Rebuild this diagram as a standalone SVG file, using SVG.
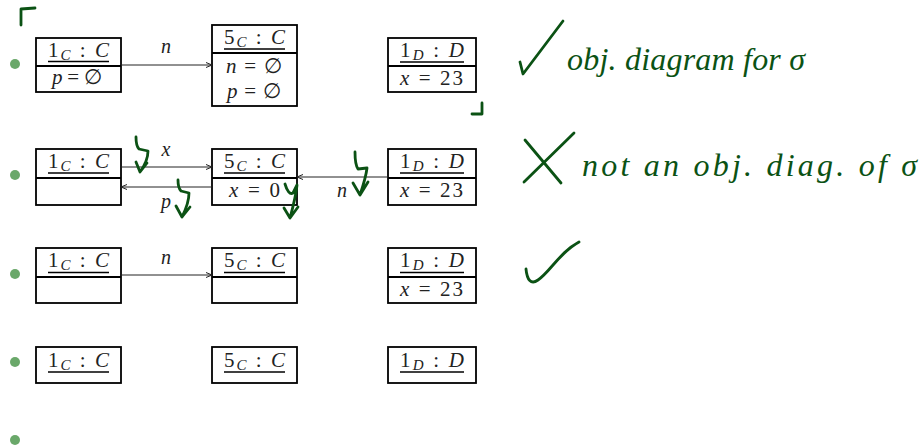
<svg xmlns="http://www.w3.org/2000/svg" width="919" height="448" viewBox="0 0 919 448">
<style>
.box{fill:none;stroke:#000;stroke-width:1.8}
.ul{stroke:#000;stroke-width:1.6}
.m{font-family:'Times New Roman','Liberation Serif','DejaVu Serif',serif;font-size:21px;fill:#222}
.i{font-style:italic}
.sub{font-size:15px;font-style:italic}
.lbl{font-family:'Times New Roman','Liberation Serif','DejaVu Serif',serif;font-size:20px;font-style:italic;fill:#222}
.con{stroke:#222;stroke-width:1;fill:none}
.ink{stroke:#0b5214;stroke-width:2.8;fill:none;stroke-linecap:round;stroke-linejoin:round}
.hw{font-family:'Times New Roman','Liberation Serif',serif;font-style:italic;font-size:32px;fill:#0b5214}
.bul{fill:#6aa86a}
</style>
<defs>
<marker id="ah" markerWidth="8" markerHeight="8" refX="7" refY="4" orient="auto" markerUnits="userSpaceOnUse">
<path d="M1,1.5 L7,4 L1,6.5" fill="none" stroke="#222" stroke-width="1"/>
</marker>
</defs>

<g id="bullets">
<circle class="bul" cx="15" cy="64" r="5"/>
<circle class="bul" cx="15" cy="175" r="5"/>
<circle class="bul" cx="15" cy="274" r="5"/>
<circle class="bul" cx="15" cy="362" r="5"/>
<circle class="bul" cx="15" cy="440" r="5"/>
</g>

<!-- Row 1 -->
<g id="r1-1C">
<rect class="box" x="36" y="38" width="85" height="54"/>
<line class="box" x1="36" y1="66" x2="121" y2="66"/>
<text class="m" x="48" y="57" textLength="61" lengthAdjust="spacing">1<tspan class="sub" dy="3">C</tspan><tspan dy="-3"> : </tspan><tspan class="i">C</tspan></text>
<line class="ul" x1="48" y1="61.5" x2="109" y2="61.5"/>
<text class="m" x="52" y="84" textLength="50" lengthAdjust="spacing"><tspan class="i">p</tspan> = ∅</text>
</g>
<g id="r1-5C">
<rect class="box" x="212" y="25" width="85" height="81"/>
<line class="box" x1="212" y1="53" x2="297" y2="53"/>
<text class="m" x="224" y="43.5" textLength="61" lengthAdjust="spacing">5<tspan class="sub" dy="3">C</tspan><tspan dy="-3"> : </tspan><tspan class="i">C</tspan></text>
<line class="ul" x1="224" y1="49" x2="285" y2="49"/>
<text class="m" x="226" y="73" textLength="56" lengthAdjust="spacing"><tspan class="i">n</tspan> = ∅</text>
<text class="m" x="227" y="98" textLength="54" lengthAdjust="spacing"><tspan class="i">p</tspan> = ∅</text>
</g>
<g id="r1-1D">
<rect class="box" x="388" y="38" width="88" height="54"/>
<line class="box" x1="388" y1="66" x2="476" y2="66"/>
<text class="m" x="400" y="57" textLength="64" lengthAdjust="spacing">1<tspan class="sub" dy="3">D</tspan><tspan dy="-3"> : </tspan><tspan class="i">D</tspan></text>
<line class="ul" x1="400" y1="62" x2="464" y2="62"/>
<text class="m" x="400" y="85" textLength="63" lengthAdjust="spacing"><tspan class="i">x</tspan> = 23</text>
</g>

<!-- Row 2 -->
<g id="r2-1C">
<rect class="box" x="36" y="149" width="85" height="56"/>
<line class="box" x1="36" y1="178" x2="121" y2="178"/>
<text class="m" x="48" y="168" textLength="61" lengthAdjust="spacing">1<tspan class="sub" dy="3">C</tspan><tspan dy="-3"> : </tspan><tspan class="i">C</tspan></text>
<line class="ul" x1="48" y1="173" x2="109" y2="173"/>
</g>
<g id="r2-5C">
<rect class="box" x="212" y="149" width="85" height="56"/>
<line class="box" x1="212" y1="178" x2="297" y2="178"/>
<text class="m" x="224" y="168" textLength="61" lengthAdjust="spacing">5<tspan class="sub" dy="3">C</tspan><tspan dy="-3"> : </tspan><tspan class="i">C</tspan></text>
<line class="ul" x1="224" y1="173" x2="285" y2="173"/>
<text class="m" x="229" y="197" textLength="51" lengthAdjust="spacing"><tspan class="i">x</tspan> = 0</text>
</g>
<g id="r2-1D">
<rect class="box" x="388" y="149" width="88" height="56"/>
<line class="box" x1="388" y1="178" x2="476" y2="178"/>
<text class="m" x="400" y="168" textLength="64" lengthAdjust="spacing">1<tspan class="sub" dy="3">D</tspan><tspan dy="-3"> : </tspan><tspan class="i">D</tspan></text>
<line class="ul" x1="400" y1="173" x2="464" y2="173"/>
<text class="m" x="400" y="197" textLength="63" lengthAdjust="spacing"><tspan class="i">x</tspan> = 23</text>
</g>

<!-- Row 3 -->
<g id="r3-1C">
<rect class="box" x="36" y="248" width="85" height="55"/>
<line class="box" x1="36" y1="277" x2="121" y2="277"/>
<text class="m" x="48" y="267" textLength="61" lengthAdjust="spacing">1<tspan class="sub" dy="3">C</tspan><tspan dy="-3"> : </tspan><tspan class="i">C</tspan></text>
<line class="ul" x1="48" y1="272.5" x2="109" y2="272.5"/>
</g>
<g id="r3-5C">
<rect class="box" x="212" y="248" width="85" height="55"/>
<line class="box" x1="212" y1="277" x2="297" y2="277"/>
<text class="m" x="224" y="267" textLength="61" lengthAdjust="spacing">5<tspan class="sub" dy="3">C</tspan><tspan dy="-3"> : </tspan><tspan class="i">C</tspan></text>
<line class="ul" x1="224" y1="272.5" x2="285" y2="272.5"/>
</g>
<g id="r3-1D">
<rect class="box" x="388" y="248" width="88" height="55"/>
<line class="box" x1="388" y1="277" x2="476" y2="277"/>
<text class="m" x="400" y="267" textLength="64" lengthAdjust="spacing">1<tspan class="sub" dy="3">D</tspan><tspan dy="-3"> : </tspan><tspan class="i">D</tspan></text>
<line class="ul" x1="400" y1="272.5" x2="464" y2="272.5"/>
<text class="m" x="400" y="296" textLength="63" lengthAdjust="spacing"><tspan class="i">x</tspan> = 23</text>
</g>

<!-- Row 4 -->
<g id="r4-1C">
<rect class="box" x="36" y="347" width="85" height="36"/>
<text class="m" x="48" y="367" textLength="61" lengthAdjust="spacing">1<tspan class="sub" dy="3">C</tspan><tspan dy="-3"> : </tspan><tspan class="i">C</tspan></text>
<line class="ul" x1="48" y1="372" x2="109" y2="372"/>
</g>
<g id="r4-5C">
<rect class="box" x="212" y="347" width="85" height="36"/>
<text class="m" x="224" y="367" textLength="61" lengthAdjust="spacing">5<tspan class="sub" dy="3">C</tspan><tspan dy="-3"> : </tspan><tspan class="i">C</tspan></text>
<line class="ul" x1="224" y1="372" x2="285" y2="372"/>
</g>
<g id="r4-1D">
<rect class="box" x="388" y="347" width="88" height="36"/>
<text class="m" x="400" y="367" textLength="64" lengthAdjust="spacing">1<tspan class="sub" dy="3">D</tspan><tspan dy="-3"> : </tspan><tspan class="i">D</tspan></text>
<line class="ul" x1="400" y1="372" x2="464" y2="372"/>
</g>

<g id="connectors">
<line class="con" x1="121" y1="65" x2="212" y2="65" marker-end="url(#ah)"/>
<text class="lbl" x="166" y="53" text-anchor="middle">n</text>
<line class="con" x1="121" y1="167" x2="212" y2="167" marker-end="url(#ah)"/>
<text class="lbl" x="166" y="156" text-anchor="middle">x</text>
<line class="con" x1="212" y1="187" x2="121" y2="187" marker-end="url(#ah)"/>
<text class="lbl" x="166" y="208" text-anchor="middle">p</text>
<line class="con" x1="388" y1="177" x2="297" y2="177" marker-end="url(#ah)"/>
<text class="lbl" x="342" y="197" text-anchor="middle">n</text>
<line class="con" x1="121" y1="275" x2="212" y2="275" marker-end="url(#ah)"/>
<text class="lbl" x="166" y="264" text-anchor="middle">n</text>
</g>

<g id="annotations">
<path class="ink" d="M21,25 L21,9 L35,8"/>
<path class="ink" d="M482,103 L482,114 L472,114"/>
<path class="ink" d="M520,62 L523,74 L563,21"/>
<text class="hw" x="567" y="70" textLength="238" lengthAdjust="spacing">obj. diagram for σ</text>
<path class="ink" d="M525,140 L561,183 M574,133 L524,182"/>
<text class="hw" x="582" y="176" textLength="335" lengthAdjust="spacing">not an obj. diag. of σ</text>
<path class="ink" d="M526,269 C527,280 531,285 538,280 C550,272 560,252 579,242"/>
<path class="ink" d="M136,137 C136,143 137,147 139,149 L148,151 C148,158 145,165 140,172 M136,162 L140,172 L147,163"/>
<path class="ink" d="M178,180 C178,186 179,189 181,191 L189,193 C189,201 186,209 182,217 M176,206 L182,217 L190,207"/>
<path class="ink" d="M285,184 C287,191 290,195 293,193 L297,185 C296,196 293,207 290,218 M284,208 L290,218 L298,207"/>
<path class="ink" d="M355,152 C355,160 356,166 358,169 L367,168 C366,177 363,186 360,195 M353,183 L360,195 L368,182"/>
</g>
</svg>
